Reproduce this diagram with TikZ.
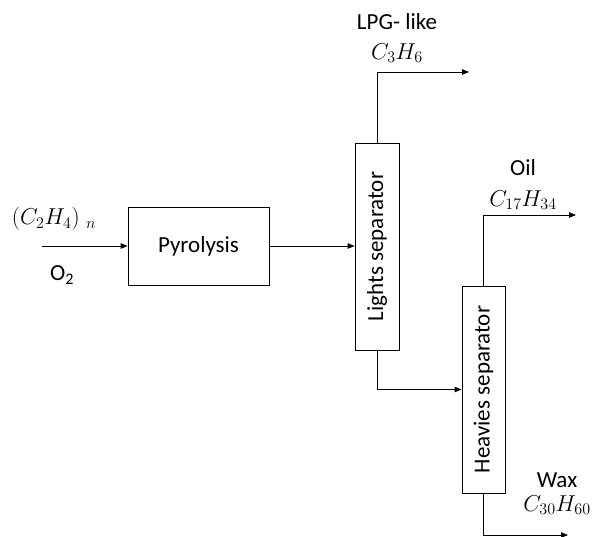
\RequirePackage{fix-cm}
\documentclass[tikz,border=0pt]{standalone}
\usepackage{fontspec}
\setmainfont{Carlito}
\usetikzlibrary{arrows.meta, positioning}

\begin{document}
\begin{tikzpicture}[x=1pt, y=-1pt,
    font=\fontsize{23}{27}\selectfont,
    unit/.style={draw, line width=0.8pt, inner sep=0pt},
    tag/.style={inner sep=1pt},
    flow/.style={line width=0.8pt, -{Triangle[length=7pt, width=5.5pt]}}]
  \useasboundingbox (0,0) rectangle (592,537);

  % Process units
  \node[unit, minimum width=141pt, minimum height=78pt] (pyro) at (198.5,246) {Pyrolysis};
  \node[unit, minimum width=44pt, minimum height=207pt] (lights) at (377,246.5) {\rotatebox{90}{Lights separator}};
  \node[unit, minimum width=43pt, minimum height=207pt] (heavies) at (483.5,389.5) {\rotatebox{90}{Heavies separator}};

  % Stream ends
  \coordinate (feed) at (42,246);
  \coordinate (lpg) at (469,72);
  \coordinate (oil) at (576,215);
  \coordinate (wax) at (568,535);

  % Streams
  \draw[flow] (feed) -- (pyro.west);
  \draw[flow] (pyro.east) -- (pyro.east -| lights.west);
  \draw[flow] (lights.north) |- (lpg);
  \draw[flow] (lights.south) |- (heavies.west);
  \draw[flow] (heavies.north) |- (oil);
  \draw[flow] (heavies.south) |- (wax);

  % Stream labels
  \node[tag] (ethylene) at (54,219) {$(C_2H_4)\;{}_n$};
  \node[tag] (oxygen) at (62,275) {O\textsubscript{2}};
  \node[tag] (lpgname) at (397,22) {LPG- like};
  \node[tag] (lpgformula) at (397,53) {$C_3H_6$};
  \node[tag] (oilname) at (523,168) {Oil};
  \node[tag] (oilformula) at (523,200) {$C_{17}H_{34}$};
  \node[tag] (waxname) at (557,480) {Wax};
  \node[tag] (waxformula) at (557,505) {$C_{30}H_{60}$};
\end{tikzpicture}
\end{document}
